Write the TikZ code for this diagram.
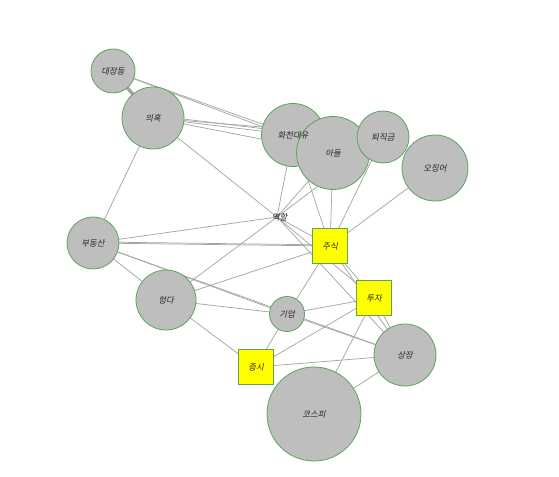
\documentclass[tikz,border=0pt]{standalone}
\usepackage{fontspec}
\newfontfamily\kr[FakeSlant=0.2]{Noto Sans CJK KR}
\definecolor{nodegray}{RGB}{190,190,190}
\definecolor{nodeedge}{RGB}{90,165,90}
\definecolor{edgegray}{RGB}{165,165,165}
\definecolor{sqyellow}{RGB}{255,255,0}
\begin{document}
\begin{tikzpicture}[x=0.75pt,y=-0.75pt,
  every node/.style={inner sep=0pt},
  lbl/.style={font=\kr\fontsize{6.3}{7}\selectfont, text=black!85, inner sep=0pt},
  word/.style={circle, fill=nodegray, draw=nodeedge, line width=0.6pt, minimum size=#1*0.75pt},
  keyword/.style={rectangle, fill=sqyellow, draw=nodeedge, line width=0.6pt, minimum size=26.25pt},
  link/.style={draw=edgegray, line width=0.55pt},
  heavylink/.style={draw=edgegray, line width=2.6pt}]
\fill[white] (0,0) rectangle (559,477);
\useasboundingbox (0,0) rectangle (559,477);
% node coordinates
\coordinate (pA) at (113,71);
\coordinate (pB) at (153,118);
\coordinate (pC) at (293,135);
\coordinate (pD) at (333,153);
\coordinate (pE) at (383,137);
\coordinate (pF) at (435,168);
\coordinate (pG) at (277,217);
\coordinate (pH) at (93,243);
\coordinate (pI) at (330,246);
\coordinate (pJ) at (374,298);
\coordinate (pK) at (166,300);
\coordinate (pL) at (287,314);
\coordinate (pM) at (256,367);
\coordinate (pN) at (405,355);
\coordinate (pO) at (314,414);
% edges (drawn below nodes)
\draw[heavylink] (pA) -- (pB);
\draw[link] (pA) -- (pC);
\draw[link] (pA) -- (pD);
\draw[link] (pB) -- (pC);
\draw[link] ([yshift=2pt]pB) -- ([yshift=2pt]pC);
\draw[link] (pB) -- (pD);
\draw[link] (pB) -- (pE);
\draw[link] (pB) -- (pH);
\draw[link] (pB) -- (pG);
\draw[link] (pC) -- (pG);
\draw[link] (pD) -- (pG);
\draw[link] (pE) -- (pG);
\draw[link] (pE) -- (pF);
\draw[link] (pC) -- (pI);
\draw[link] (pD) -- (pI);
\draw[link] (pE) -- (pI);
\draw[link] (pF) -- (pI);
\draw[link] (pG) -- (pH);
\draw[link] (pG) -- (pK);
\draw[link] (pG) -- (pI);
\draw[link] (pG) -- (pJ);
\draw[link] (pG) -- (pN);
\draw[link] (pH) -- (pI);
\draw[link] ([yshift=0.8pt]pH) -- ([yshift=0.8pt]pI);
\draw[link] (pH) -- (pK);
\draw[link] (pH) -- (pL);
\draw[link] (pH) -- (pN);
\draw[link] (pK) -- (pI);
\draw[link] (pK) -- (pL);
\draw[link] (pK) -- (pM);
\draw[link] (pI) -- (pJ);
\draw[link] (pI) -- (pL);
\draw[link] (pI) -- (pN);
\draw[link] (pJ) -- (pL);
\draw[link] (pJ) -- (pM);
\draw[link] (pJ) -- (pO);
\draw[link] (pJ) -- (pN);
\draw[link] (pL) -- (pM);
\draw[link] (pL) -- (pN);
\draw[link] (pM) -- (pN);
\draw[link] (pO) -- (pN);
% vertex shapes
\node[word=44] (daejang) at (pA) {};
\node[word=62] (uihok) at (pB) {};
\node[word=63] (hwacheon) at (pC) {};
\node[word=73] (adeul) at (pD) {};
\node[word=52] (toejik) at (pE) {};
\node[word=66] (ojingeo) at (pF) {};
\node[word=3] (yeokhal) at (pG) {};
\node[word=52] (budong) at (pH) {};
\node[keyword] (jusik) at (pI) {};
\node[keyword] (tuja) at (pJ) {};
\node[word=60] (heongda) at (pK) {};
\node[word=35] (gieop) at (pL) {};
\node[keyword] (jeungsi) at (pM) {};
\node[word=62] (sangjang) at (pN) {};
\node[word=94] (kospi) at (pO) {};
% labels (drawn on top of all vertices)
\node[lbl] (tdaejang) at (daejang.center) {대장동};
\node[lbl] (tuihok) at (uihok.center) {의혹};
\node[lbl] (thwacheon) at (hwacheon.center) {화천대유};
\node[lbl] (tadeul) at (adeul.center) {아들};
\node[lbl] (ttoejik) at (toejik.center) {퇴직금};
\node[lbl] (tojingeo) at (ojingeo.center) {오징어};
\node[lbl] (tyeokhal) at ([xshift=2pt]yeokhal.center) {역할};
\node[lbl] (tbudong) at (budong.center) {부동산};
\node[lbl] (tjusik) at (jusik.center) {주식};
\node[lbl] (ttuja) at (tuja.center) {투자};
\node[lbl] (theongda) at (heongda.center) {헝다};
\node[lbl] (tgieop) at (gieop.center) {기업};
\node[lbl] (tjeungsi) at (jeungsi.center) {증시};
\node[lbl] (tsangjang) at (sangjang.center) {상장};
\node[lbl] (tkospi) at (kospi.center) {코스피};
\end{tikzpicture}
\end{document}
